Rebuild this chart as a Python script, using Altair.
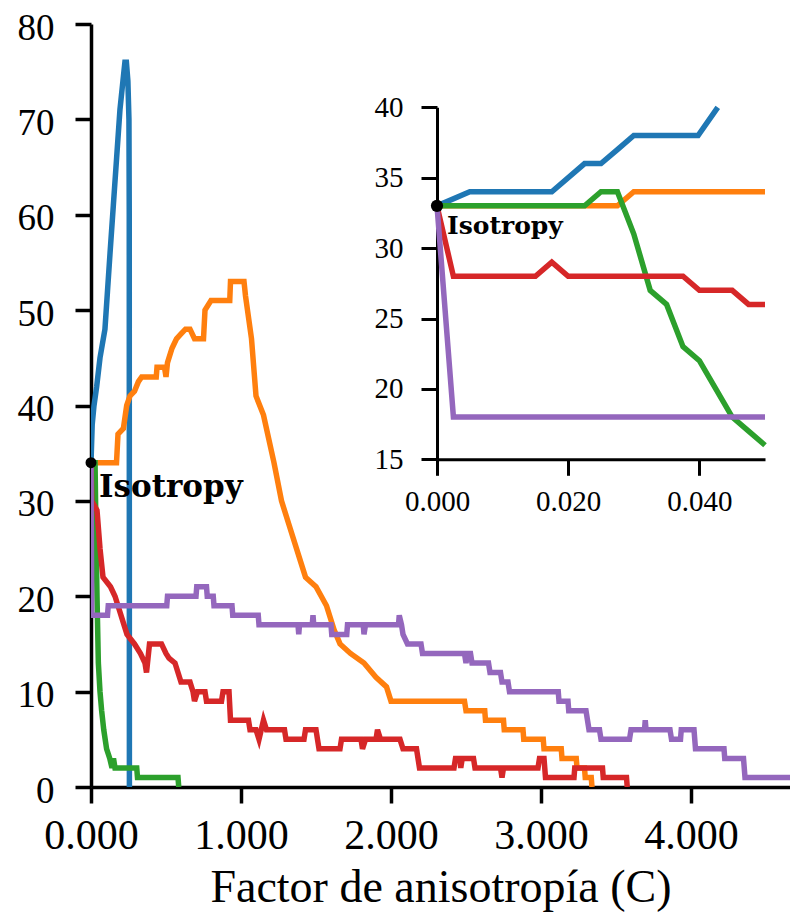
import altair as alt
import pandas as pd

series = ["Serie 1", "Serie 2", "Serie 3", "Serie 4", "Serie 5"]
colors = ["#1f77b4", "#ff7f0e", "#2ca02c", "#d62728", "#9467bd"]

# ---- main panel (C, N) ----
blue = [(0, 34), (0.008, 38), (0.02, 40), (0.038, 42), (0.06, 45), (0.093, 48), (0.11, 52),
        (0.127, 56), (0.149, 61), (0.171, 66), (0.193, 71), (0.216, 74.5), (0.226, 76),
        (0.236, 76), (0.246, 74), (0.253, 70), (0.255, 60), (0.256, 0)]
orange = [(0, 34), (0.17, 34), (0.18, 37), (0.216, 37.6), (0.238, 40), (0.26, 41), (0.29, 41.5),
          (0.316, 42.5), (0.338, 43), (0.435, 43), (0.44, 44), (0.49, 44), (0.5, 43), (0.51, 44.5),
          (0.54, 46), (0.57, 47), (0.6, 47.5), (0.63, 48), (0.66, 48), (0.69, 47), (0.75, 47),
          (0.76, 50), (0.8, 51), (0.925, 51), (0.93, 53), (1.02, 53), (1.03, 51.5), (1.07, 47),
          (1.1, 41), (1.15, 39), (1.22, 34), (1.27, 30), (1.32, 27.5), (1.39, 24), (1.43, 22),
          (1.5, 21), (1.57, 19), (1.62, 16.5), (1.66, 15), (1.73, 14), (1.82, 13), (1.9, 11.5),
          (1.97, 10.5), (2.0, 9), (2.49, 9), (2.5, 8), (2.625, 8), (2.63, 7), (2.75, 7), (2.755, 6),
          (2.88, 6), (2.885, 5), (3.015, 5), (3.02, 4), (3.135, 4), (3.14, 3), (3.235, 3), (3.24, 2),
          (3.29, 2), (3.295, 1), (3.335, 1), (3.34, 0)]
green = [(0, 34), (0.027, 34), (0.033, 27), (0.04, 20), (0.049, 13), (0.06, 10), (0.071, 8),
         (0.085, 6), (0.104, 4), (0.125, 3), (0.14, 2), (0.15, 3), (0.16, 2), (0.305, 2), (0.31, 1),
         (0.58, 1), (0.585, 0)]
red = [(0, 34), (0.005, 30), (0.04, 29), (0.06, 25), (0.08, 22), (0.13, 21), (0.16, 20), (0.18, 19),
       (0.22, 17), (0.24, 16), (0.29, 15), (0.33, 14), (0.36, 13), (0.37, 12), (0.39, 15), (0.47, 15),
       (0.5, 14), (0.52, 13.5), (0.56, 13), (0.6, 11), (0.66, 11), (0.68, 10), (0.69, 9), (0.71, 10),
       (0.76, 10), (0.77, 9), (0.87, 9), (0.88, 10), (0.92, 10), (0.93, 7), (1.05, 7), (1.06, 6),
       (1.1, 6), (1.12, 5), (1.15, 7), (1.17, 6), (1.29, 6), (1.3, 5), (1.42, 5), (1.43, 6), (1.5, 6),
       (1.51, 5), (1.52, 4), (1.66, 4), (1.67, 5), (1.8, 5), (1.81, 4), (1.83, 5), (1.9, 5),
       (1.91, 6), (1.93, 5), (2.06, 5), (2.08, 4), (2.17, 4), (2.19, 2), (2.42, 2), (2.43, 3),
       (2.46, 3), (2.465, 2), (2.475, 3), (2.55, 3), (2.56, 2), (2.73, 2), (2.74, 1), (2.75, 2),
       (2.98, 2), (2.99, 3), (3.02, 3), (3.03, 1), (3.22, 1), (3.225, 2), (3.41, 2), (3.415, 1),
       (3.57, 1), (3.575, 0)]
purple = [(0, 34), (0.005, 18), (0.11, 18), (0.115, 19), (0.505, 19), (0.51, 20), (0.7, 20),
          (0.705, 21), (0.77, 21), (0.775, 20), (0.815, 20), (0.82, 19), (0.94, 19), (0.945, 18),
          (1.115, 18), (1.12, 17), (1.38, 17), (1.385, 16), (1.39, 17), (1.475, 17), (1.48, 18),
          (1.485, 17), (1.6, 17), (1.605, 16), (1.705, 16), (1.71, 17), (1.815, 17), (1.82, 16),
          (1.83, 17), (2.05, 17), (2.055, 18), (2.07, 17), (2.08, 16), (2.11, 15), (2.2, 15),
          (2.21, 14), (2.49, 14), (2.5, 13), (2.51, 14), (2.53, 14), (2.54, 13), (2.65, 13),
          (2.66, 12), (2.73, 12), (2.74, 11), (2.78, 11), (2.79, 10), (3.115, 10), (3.12, 9),
          (3.18, 9), (3.185, 8), (3.3, 8), (3.31, 7), (3.32, 6), (3.39, 6), (3.4, 5), (3.59, 5),
          (3.6, 6), (3.69, 6), (3.695, 7), (3.7, 6), (3.86, 6), (3.87, 5), (3.93, 5), (3.935, 6),
          (4.02, 6), (4.03, 4), (4.22, 4), (4.225, 3), (4.35, 3), (4.36, 1), (4.75, 1)]

# ---- inset panel (zoom near C = 0) ----
blue_in = [(0, 33), (0.005, 34), (0.0175, 34), (0.0225, 36), (0.025, 36), (0.0275, 37),
           (0.03, 38), (0.0398, 38), (0.0428, 40)]
orange_in = [(0, 33), (0.0275, 33), (0.03, 34), (0.05, 34)]
green_in = [(0, 33), (0.0225, 33), (0.025, 34), (0.0275, 34), (0.03, 31), (0.0325, 27),
            (0.035, 26), (0.0375, 23), (0.04, 22), (0.0425, 20), (0.045, 18), (0.0475, 17),
            (0.05, 16)]
red_in = [(0, 33), (0.0025, 28), (0.015, 28), (0.0175, 29), (0.02, 28), (0.0375, 28),
          (0.04, 27), (0.045, 27), (0.0475, 26), (0.05, 26)]
purple_in = [(0, 33), (0.0025, 18), (0.05, 18)]

iso_main = (0, 34)
iso_inset = (0, 33)
iso_label = "Isotropy"

main_x_ticks = [0, 1, 2, 3, 4]
main_y_ticks = [0, 10, 20, 30, 40, 50, 60, 70, 80]
inset_x_ticks = [0, 0.02, 0.04]
inset_y_ticks = [15, 20, 25, 30, 35, 40]


def frame(groups):
    rows = []
    for name, pts in zip(series, groups):
        for i, (cx, ny) in enumerate(pts):
            rows.append({"serie": name, "C": cx, "N": ny, "i": i})
    return pd.DataFrame(rows)


df_main = frame([blue, orange, green, red, purple])
df_in = frame([blue_in, orange_in, green_in, red_in, purple_in])

color = alt.Color("serie:N", scale=alt.Scale(domain=series, range=colors), legend=None)

PLOT_W, PLOT_H = 699, 763
FONT = "Liberation Serif"
LW = 5.5

x_main = alt.X("C:Q", scale=alt.Scale(domain=[0, 4.66], nice=False, zero=False),
               axis=alt.Axis(values=main_x_ticks, format=".3f", title="Factor de anisotropía (C)",
                             grid=False, labelFlush=False, labelOverlap=False,
                             labelFont=FONT, labelFontSize=42, labelColor="black",
                             labelPadding=12, tickSize=16, tickWidth=3.5, tickColor="black",
                             domainWidth=3.5, domainColor="black",
                             titleFont=FONT, titleFontSize=46, titleFontWeight="normal",
                             titleColor="black", titlePadding=9))
y_main = alt.Y("N:Q", scale=alt.Scale(domain=[0, 80], nice=False),
               axis=alt.Axis(values=main_y_ticks, title=None, grid=False, labelFlush=False,
                             labelOverlap=False, labelFont=FONT, labelFontSize=37,
                             labelColor="black", labelPadding=21, labelOffset=4, tickSize=16,
                             tickWidth=3.5, tickColor="black", domainWidth=3.5,
                             domainColor="black"))

main_lines = alt.Chart(df_main).mark_line(strokeWidth=LW, clip=True).encode(
    x=x_main, y=y_main, color=color, order="i:Q")
main_dot = alt.Chart(pd.DataFrame({"C": [iso_main[0]], "N": [iso_main[1]]})).mark_circle(
    size=120, color="black", opacity=1).encode(x="C:Q", y="N:Q")
main_txt = alt.Chart(pd.DataFrame({"C": [iso_main[0]], "N": [iso_main[1]], "t": [iso_label]})).mark_text(
    font="DejaVu Serif", fontWeight="bold", fontSize=31, align="left", baseline="alphabetic",
    dx=8, dy=34, color="black").encode(x="C:Q", y="N:Q", text="t:N")
main = alt.layer(main_lines, main_dot, main_txt)

# inset placement inside the plot area (pixels)
IN_L, IN_R = 346, 674
IN_T, IN_B = 83.3, 435.3

x_in = alt.X("C:Q", scale=alt.Scale(domain=[0, 0.05], range=[IN_L, IN_R], nice=False, zero=False),
             axis=alt.Axis(orient="bottom", offset=-(PLOT_H - IN_B), values=inset_x_ticks,
                           format=".3f", title=None, grid=False, labelFlush=False,
                           labelOverlap=False, labelFont=FONT, labelFontSize=29,
                           labelColor="black", labelPadding=12, tickSize=16, tickWidth=3,
                           tickColor="black", domainWidth=3, domainColor="black"))
y_in = alt.Y("N:Q", scale=alt.Scale(domain=[15, 40], range=[IN_B, IN_T], nice=False, zero=False),
             axis=alt.Axis(orient="left", offset=-IN_L, values=inset_y_ticks, title=None,
                           grid=False, labelFlush=False, labelOverlap=False, labelFont=FONT,
                           labelFontSize=29, labelColor="black", labelPadding=18, tickSize=16,
                           tickWidth=3, tickColor="black", domainWidth=3, domainColor="black"))

in_lines = alt.Chart(df_in).mark_line(strokeWidth=LW).encode(
    x=x_in, y=y_in, color=color, order="i:Q")
in_dot = alt.Chart(pd.DataFrame({"C": [iso_inset[0]], "N": [iso_inset[1]]})).mark_circle(
    size=150, color="black", opacity=1).encode(x="C:Q", y="N:Q")
in_txt = alt.Chart(pd.DataFrame({"C": [iso_inset[0]], "N": [iso_inset[1]], "t": [iso_label]})).mark_text(
    font="DejaVu Serif", fontWeight="bold", fontSize=25, align="left", baseline="alphabetic",
    dx=10, dy=28, color="black").encode(x="C:Q", y="N:Q", text="t:N")
inset = alt.layer(in_lines, in_dot, in_txt)

chart = alt.layer(main, inset).resolve_scale(x="independent", y="independent").properties(
    width=PLOT_W, height=PLOT_H,
    padding={"left": 83, "top": 16, "right": 0, "bottom": 125},
    autosize=alt.AutoSizeParams(type="none"),
    background="white",
).configure_view(stroke=None)

chart.save("out.html", embed_options={"renderer": "svg", "actions": False})
